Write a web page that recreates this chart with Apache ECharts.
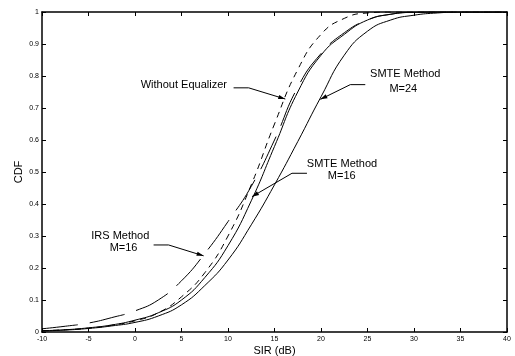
<!DOCTYPE html>
<html>
<head>
<meta charset="utf-8">
<script src="https://cdn.jsdelivr.net/npm/echarts@6/dist/echarts.min.js"></script>
<style>html,body{margin:0;padding:0;background:#fff;}#c{width:515px;height:356px;}</style>
</head>
<body>
<div id="c"></div>
<script>
// ---- data ----
const sir = [-10,-7.5,-5,-2.5,0,2.5,5,7.5,10,12.5,15,17.5,20,22.5,25,27.5,30,32.5,35,37.5,40];
const withoutEq = [0.004,0.007,0.012,0.021,0.035,0.06,0.11,0.185,0.30,0.46,0.65,0.82,0.93,0.98,0.997,1,1,1,1,1,1];
const irsM16    = [0.01,0.018,0.028,0.045,0.066,0.1,0.16,0.245,0.345,0.455,0.6,0.765,0.87,0.935,0.975,0.993,0.999,1,1,1,1];
const smteM16   = [0.004,0.007,0.013,0.022,0.037,0.06,0.10,0.17,0.27,0.41,0.58,0.75,0.865,0.93,0.975,0.993,0.999,1,1,1,1];
const smteM24   = [0.003,0.006,0.011,0.019,0.03,0.05,0.085,0.145,0.225,0.335,0.46,0.595,0.735,0.865,0.94,0.975,0.99,0.997,1,1,1];
const xTicks = [-10,-5,0,5,10,15,20,25,30,35,40];
const yTicks = [0,0.1,0.2,0.3,0.4,0.5,0.6,0.7,0.8,0.9,1];

// annotations (data coordinates)
const notes = [
  {text:[{s:'Without Equalizer', at:[5.25,0.773]}], path:[[10.6,0.763],[12.22,0.763],[16.16,0.728]]},
  {text:[{s:'SMTE Method', at:[29.06,0.805]},{s:'M=24', at:[28.85,0.759]}], path:[[24.76,0.773],[23.15,0.773],[19.93,0.727]]},
  {text:[{s:'SMTE Method', at:[22.26,0.525]},{s:'M=16', at:[22.23,0.487]}], path:[[18.49,0.496],[16.88,0.496],[12.58,0.423]]},
  {text:[{s:'IRS Method', at:[-1.58,0.301]},{s:'M=16', at:[-1.23,0.2625]}], path:[[2.0,0.272],[3.61,0.272],[7.38,0.238]]}
];

const FONT = '"Liberation Sans", Arial, sans-serif';
const pairs = arr => sir.map((x,i)=>[x,arr[i]]);
const chart = echarts.init(document.getElementById('c'), null, {renderer:'canvas'});

const axisCommon = {
  type:'value', splitLine:{show:false},
  axisLine:{show:true, onZero:false, lineStyle:{color:'#000', width:1.5}},
  axisTick:{show:true, inside:true, length:4, lineStyle:{color:'#000', width:1}},
};
const line = (name, arr, dash) => ({
  name, type:'line', data:pairs(arr), showSymbol:false, smooth:0.5, silent:true,
  lineStyle:{color:'#000', width:1, type:dash || 'solid'}
});

chart.setOption({
  animation:false,
  grid:{left:42, right:8, top:12, bottom:24, outerBoundsMode:'none', containLabel:false},
  xAxis:[
    Object.assign({}, axisCommon, {position:'bottom', min:-10, max:40, interval:5,
      name:'SIR (dB)', nameLocation:'middle', nameGap:13, nameMoveOverlap:false,
      nameTextStyle:{fontFamily:FONT, fontSize:11, color:'#000', verticalAlign:'top', lineHeight:11},
      axisLabel:{fontFamily:FONT, fontSize:7, color:'#000', margin:4,
        formatter:v=>xTicks.includes(v)?String(v):''}}),
    Object.assign({}, axisCommon, {position:'top', min:-10, max:40, interval:5, axisLabel:{show:false}})
  ],
  yAxis:[
    Object.assign({}, axisCommon, {position:'left', min:0, max:1, interval:0.1,
      name:'CDF', nameLocation:'middle', nameGap:18, nameRotate:90, nameMoveOverlap:false,
      nameTextStyle:{fontFamily:FONT, fontSize:11, color:'#000'},
      axisLabel:{fontFamily:FONT, fontSize:7, color:'#000', margin:3,
        formatter:v=>{const t=yTicks.find(k=>Math.abs(k-v)<1e-9); return t===undefined?'':String(t);}}}),
    Object.assign({}, axisCommon, {position:'right', min:0, max:1, interval:0.1, axisLabel:{show:false}})
  ],
  series:[
    line('Without Equalizer', withoutEq, [6,5]),
    line('IRS Method M=16', irsM16, [36,12]),
    line('SMTE Method M=16', smteM16),
    line('SMTE Method M=24', smteM24)
  ]
});

const els = [];
notes.forEach(n => {
  n.text.forEach(t => {
    const p = chart.convertToPixel({gridIndex:0}, t.at);
    els.push({type:'text', x:p[0], y:p[1], silent:true,
      style:{text:t.s, fill:'#000', font:'11px '+FONT, align:'center', verticalAlign:'middle'}});
  });
  const pts = n.path.map(d => chart.convertToPixel({gridIndex:0}, d));
  els.push({type:'polyline', silent:true, shape:{points:pts}, style:{stroke:'#000', lineWidth:1, fill:null}});
  const a = pts[pts.length-2], b = pts[pts.length-1];
  const dx=b[0]-a[0], dy=b[1]-a[1], L=Math.hypot(dx,dy), ux=dx/L, uy=dy/L;
  const len=7, w=2.2;
  const bx=b[0]-ux*len, by=b[1]-uy*len;
  els.push({type:'polygon', silent:true, shape:{points:[b,[bx-uy*w, by+ux*w],[bx+uy*w, by-ux*w]]}, style:{fill:'#000'}});
});
chart.setOption({graphic: els});
</script>
</body>
</html>
